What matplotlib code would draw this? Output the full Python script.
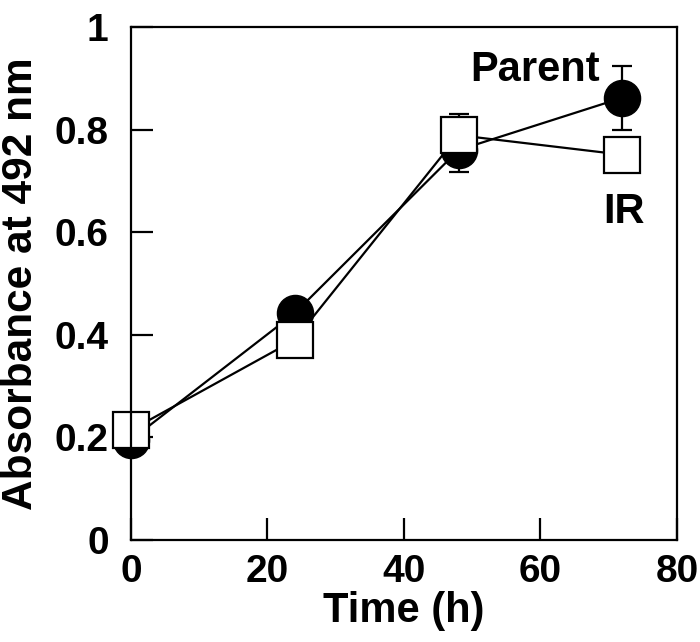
import numpy as np
import matplotlib
matplotlib.use("Agg")
import matplotlib.pyplot as plt

plt.rcParams['font.family'] = ['Liberation Sans', 'DejaVu Sans']
plt.rcParams['font.weight'] = 'bold'

# data
time_h = [0, 24, 48, 72]
parent = [0.195, 0.442, 0.760, 0.862]
parent_err = [0.01, 0.02, 0.043, 0.062]
ir = [0.214, 0.390, 0.789, 0.751]
ir_err = [0.01, 0.01, 0.041, 0.01]

fig = plt.figure(figsize=(7, 6.42), dpi=100)
ax = fig.add_axes([0.187, 0.159, 0.780, 0.799])

ax.errorbar(time_h, parent, yerr=parent_err, color='black', linewidth=1.6,
            marker='o', markersize=26, markerfacecolor='black', markeredgecolor='black',
            elinewidth=1.6, capsize=7, capthick=1.6, clip_on=False)
ax.errorbar(time_h, ir, yerr=ir_err, color='black', linewidth=1.6,
            marker='s', markersize=26, markerfacecolor='white', markeredgecolor='black',
            markeredgewidth=1.6, elinewidth=1.6, capsize=7, capthick=1.6, clip_on=False)

ax.text(68.7, 0.916, "Parent", ha='right', va='center', fontsize=30, fontweight='bold')
ax.text(72.2, 0.64, "IR", ha='center', va='center', fontsize=30, fontweight='bold')

ax.set_xlim(0, 80)
ax.set_ylim(0, 1)
ax.set_xticks([0, 20, 40, 60, 80])
ax.set_yticks([0, 0.2, 0.4, 0.6, 0.8, 1])
ax.set_yticklabels(['0', '0.2', '0.4', '0.6', '0.8', '1'])
ax.tick_params(axis='both', direction='in', length=16, width=1.6, labelsize=28)
ax.tick_params(axis='x', pad=10)
ax.tick_params(axis='y', pad=16)
for s in ax.spines.values():
    s.set_linewidth(1.6)

ax.set_xlabel("Time (h)", fontsize=30, fontweight='bold')
ax.set_ylabel("Absorbance at 492 nm", fontsize=30.5, fontweight='bold')
ax.xaxis.set_label_coords(0.5, -0.099)
ax.yaxis.set_label_coords(-0.165, 0.5)

fig.savefig("out.png", dpi=100)
